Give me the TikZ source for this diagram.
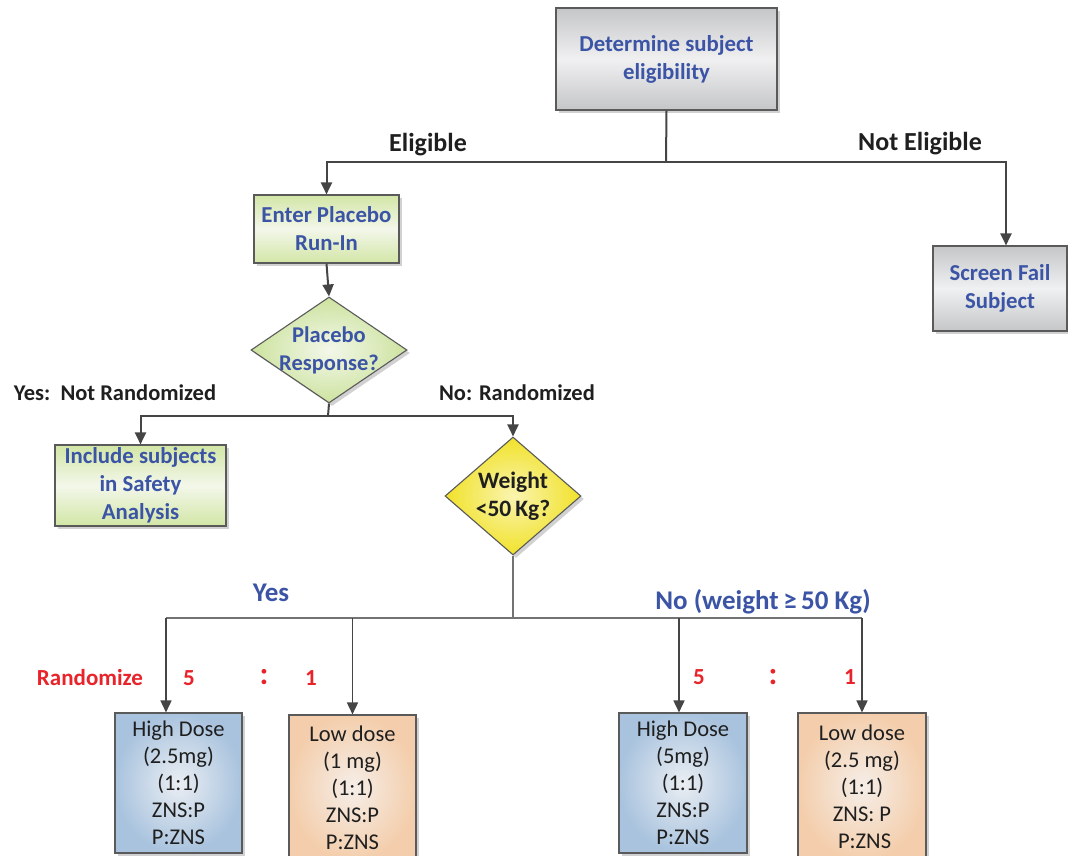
\documentclass[tikz,border=0pt]{standalone}
\usepackage{fontspec}
\setmainfont{Carlito}
\usetikzlibrary{arrows.meta,shapes.geometric,shadows,calc}
\definecolor{tblue}{HTML}{3B54A5}
\definecolor{tred}{HTML}{E8232A}
\definecolor{lcol}{HTML}{454545}
\definecolor{bcol}{HTML}{5A5A5A}
\definecolor{gtop}{HTML}{C5C6C8}
\definecolor{gmid}{HTML}{F0F0F1}
\definecolor{grtop}{HTML}{D2E6A6}
\definecolor{grmid}{HTML}{F3F7EA}
\definecolor{grout}{HTML}{CDE39F}
\definecolor{yin}{HTML}{FAF4B0}
\definecolor{yout}{HTML}{F1E22A}
\definecolor{bin}{HTML}{EAEEF3}
\definecolor{bout}{HTML}{A9C3DE}
\definecolor{oin}{HTML}{F5EEE8}
\definecolor{oout}{HTML}{F4CEAC}
\begin{document}
\begin{tikzpicture}[x=1pt,y=-1pt,
  shad/.style={drop shadow={shadow xshift=3pt,shadow yshift=-3pt,opacity=0.18,fill=black}},
  box/.style={draw=bcol, line width=1.1pt, inner sep=0pt, align=center, shad,
    font=\bfseries\fontsize{22.8}{28}\selectfont, text=tblue},
  graybox/.style={box, top color=gtop, bottom color=gtop, middle color=gmid},
  greenbox/.style={box, top color=grtop, bottom color=grtop, middle color=grmid},
  gdiamond/.style={diamond, draw=bcol, line width=1.1pt, inner sep=0pt, shad,
    shading=radial, inner color=grmid, outer color=grout},
  ydiamond/.style={diamond, draw=bcol, line width=1.1pt, inner sep=0pt, shad,
    shading=radial, inner color=yin, outer color=yout},
  dtext/.style={align=center, inner sep=0pt, font=\bfseries\fontsize{22.5}{28}\selectfont},
  dose/.style={draw=bcol, line width=1.1pt, inner sep=0pt, align=center, shad,
    font=\fontsize{22.5}{27}\selectfont, text=black!88, shading=radial},
  hdose/.style={dose, inner color=bin, outer color=bout},
  ldose/.style={dose, inner color=oin, outer color=oout},
  lab/.style={font=\bfseries\fontsize{26}{30}\selectfont, text=black!88, inner sep=0pt},
  lab2/.style={font=\bfseries\fontsize{22.5}{26}\selectfont, text=black!88, inner sep=0pt},
  bluelab/.style={font=\bfseries\fontsize{27}{30}\selectfont, text=tblue, inner sep=0pt},
  redlab/.style={font=\bfseries\fontsize{23}{26}\selectfont, text=tred, inner sep=0pt},
  redcolon/.style={font=\bfseries\fontsize{32}{34}\selectfont, text=tred, inner sep=0pt},
  conn/.style={draw=lcol, line width=2pt},
  thinconn/.style={draw=black!55, line width=1.5pt},
  arr/.style={conn, -{Triangle[length=12pt,width=11pt]}},
  arrt/.style={draw=lcol, line width=1.6pt, -{Triangle[length=12pt,width=11pt]}}
]
\useasboundingbox (0,0) rectangle (1068,856);
% nodes
\node[graybox, minimum width=221pt, minimum height=102pt] (det) at (666.5,59) {Determine subject\\eligibility};
\node[greenbox, minimum width=145pt, minimum height=68pt] (enter) at (326.5,229) {Enter Placebo\\Run-In};
\node[graybox, minimum width=134pt, minimum height=85pt] (sf) at (1000,288.5) {Screen Fail\\Subject};
\node[gdiamond, minimum width=156pt, minimum height=106pt] (pr) at (329,350) {};
\node[dtext, text=tblue] (prt) at (pr) {Placebo\\Response?};
\node[greenbox, minimum width=171pt, minimum height=81pt] (inc) at (140.5,485.5) {Include subjects\\in Safety\\Analysis};
\node[ydiamond, minimum width=136pt, minimum height=118pt] (wt) at (513,496) {};
\node[dtext, text=black!88, font=\bfseries\fontsize{23.5}{28}\selectfont] (wtt) at (wt) {Weight\\<50\,Kg?};
\node[hdose, minimum width=127pt, minimum height=140pt] (hd1) at (178.5,783) {High Dose\\(2.5mg)\\(1:1)\\ZNS:P\\P:ZNS};
\node[ldose, minimum width=127pt, minimum height=145pt] (ld1) at (352.5,787.5) {Low dose\\(1 mg)\\(1:1)\\ZNS:P\\P:ZNS};
\node[hdose, minimum width=128pt, minimum height=140pt] (hd2) at (683,783) {High Dose\\(5mg)\\(1:1)\\ZNS:P\\P:ZNS};
\node[ldose, minimum width=128pt, minimum height=147pt] (ld2) at (862,786.5) {Low dose\\(2.5 mg)\\(1:1)\\ZNS: P\\\ P:ZNS};
% labels
\node[lab] (el) at (428,145) {Eligible};
\node[lab] (ne) at (920,144) {Not Eligible};
\node[lab2] (ynr) at (115,393) {Yes:\ \ Not Randomized};
\node[lab2] (nr) at (517,393) {No: Randomized};
\node[bluelab] (yes) at (271,593) {Yes};
\node[bluelab] (no) at (763,602) {No (weight\,≥\,50 Kg)};
\node[redlab] (rnd) at (90,678) {Randomize};
\node[redlab] (r5a) at (189,678) {5};
\node[redcolon] (rca) at (264,677) {:};
\node[redlab] (r1a) at (311,678) {1};
\node[redlab] (r5b) at (699,677) {5};
\node[redcolon] (rcb) at (773,677) {:};
\node[redlab] (r1b) at (850,677) {1};
% connectors
\coordinate (j1) at (666,162);
\draw[conn] (det.south) -- (j1);
\draw[arr] (j1) -| (enter.north);
\draw[arr] (j1) -| ($(sf.north)+(6,0)$);
\draw[arr] (enter.south) -- (pr.north);
\coordinate (j2) at (328,416);
\draw[conn] (pr.south) -- (j2);
\draw[arr] (j2) -| (inc.north);
\draw[arr] (j2) -| (wt.north);
\coordinate (j3) at (513,618);
\coordinate (a1) at (166,618);
\coordinate (a3) at (679,618);
\coordinate (a4) at (862,618);
\draw[thinconn] (wt.south) -- (j3);
\draw[thinconn] (a1) -- (a4);
\draw[arrt] (a1) -- (a1 |- hd1.north);
\draw[arrt] (ld1.north |- j3) -- (ld1.north);
\draw[arrt] (a3) -- (a3 |- hd2.north);
\draw[arrt] (a4) -- (ld2.north);
\end{tikzpicture}
\end{document}
